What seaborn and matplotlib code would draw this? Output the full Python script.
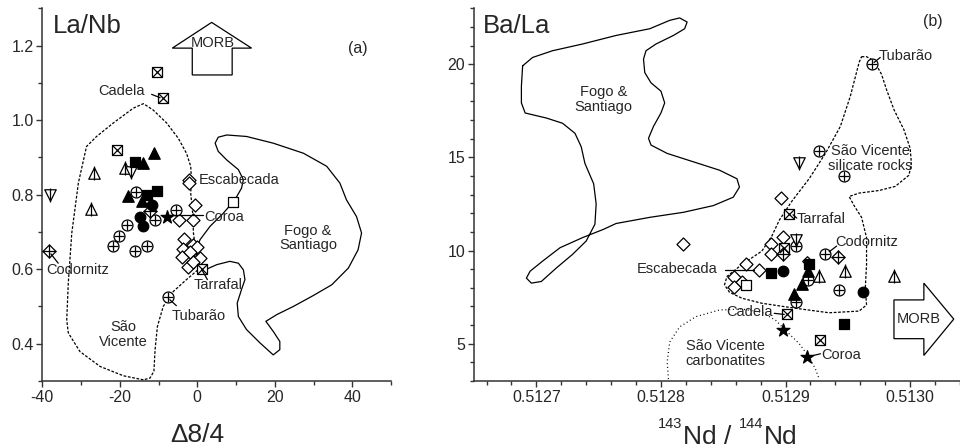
import numpy as np
import pandas as pd
import matplotlib
matplotlib.use("Agg")
import matplotlib.pyplot as plt
import seaborn as sns
from matplotlib.ticker import MultipleLocator, FormatStrFormatter
from matplotlib.patches import Polygon

sns.set_style("ticks")
plt.rcParams["font.family"] = ["Liberation Sans", "DejaVu Sans"]
plt.rcParams["mathtext.default"] = "regular"
plt.rcParams["axes.unicode_minus"] = False

# ---------------- Panel (a): La/Nb vs Delta8/4 ----------------
a_cplus_x = [-15.8, -10.9, -5.5, -18.2, -20.1, -21.8, -16.1, -13.1, -7.5]
a_cplus_y = [0.808, 0.733, 0.759, 0.719, 0.690, 0.661, 0.650, 0.661, 0.524]
a_dplus_x = [-12.2, -38.2]
a_dplus_y = [0.755, 0.650]
a_sqx_x = [-10.3, -8.8, -20.6, 1.1]
a_sqx_y = [1.130, 1.059, 0.920, 0.600]
a_sqo_x = [9.3]
a_sqo_y = [0.781]
a_tri_x = [-11.2, -13.9, -17.8, -14.4]
a_tri_y = [0.911, 0.884, 0.795, 0.782]
a_sqf_x = [-16.1, -10.3, -13.1]
a_sqf_y = [0.888, 0.811, 0.800]
a_cir_x = [-11.8, -14.8, -13.9]
a_cir_y = [0.773, 0.741, 0.716]
a_trio_x = [-26.6, -27.5, -18.7]
a_trio_y = [0.858, 0.761, 0.871]
a_tdn_x = [-38.0, -17.0]
a_tdn_y = [0.800, 0.862]
a_star_x = [-7.7]
a_star_y = [0.740]
a_dia_x = [-2.1, -2.1, -0.5, -1.2, -4.7, -3.5, -3.7, -1.0, -0.2, -3.9, -1.8, 0.8, -2.4, -1.0]
a_dia_y = [0.840, 0.830, 0.771, 0.731, 0.733, 0.680, 0.655, 0.665, 0.660, 0.632, 0.645, 0.630, 0.607, 0.620]

a_sv_x = [-13.9, -19.1, -25.1, -30.3, -33.3, -33.7, -33.3, -32.4, -30.7, -28.6, -26.0, -21.7,
          -16.5, -13.9, -11.4, -7.9, -4.9, -2.8, -1.7, -1.5, -1.7, -1.2, -1.0, -0.3, 0.7,
          -2.8, -6.2, -8.8, -10.3, -10.9, -11.2, -12.2, -13.9]
a_sv_y = [0.303, 0.314, 0.339, 0.379, 0.429, 0.464, 0.563, 0.697, 0.831, 0.929, 0.956, 0.992,
          1.032, 1.044, 1.027, 0.992, 0.951, 0.911, 0.876, 0.840, 0.804, 0.750, 0.697, 0.643, 0.603,
          0.572, 0.540, 0.500, 0.446, 0.384, 0.326, 0.308, 0.303]
a_fs_x = [1.1, -1.0, 0.7, 3.3, 6.7, 9.7, 11.4, 11.9, 10.6, 7.6, 5.4, 4.6, 5.4, 7.6, 12.7, 19.6,
          27.4, 33.4, 36.8, 38.5, 41.1, 42.4, 41.5, 39.0, 34.7, 29.9, 24.8, 20.5, 17.7, 19.6,
          21.3, 21.3, 19.6, 16.2, 12.7, 10.6, 10.3, 11.4, 12.3, 11.9, 10.6, 8.4, 5.0, 2.0, 1.1]
a_fs_y = [0.597, 0.625, 0.679, 0.715, 0.750, 0.786, 0.817, 0.840, 0.867, 0.893, 0.916, 0.938,
          0.954, 0.960, 0.956, 0.938, 0.911, 0.876, 0.831, 0.786, 0.741, 0.697, 0.652, 0.603,
          0.558, 0.529, 0.500, 0.478, 0.460, 0.433, 0.406, 0.384, 0.370, 0.402, 0.438, 0.473,
          0.509, 0.545, 0.572, 0.598, 0.616, 0.621, 0.612, 0.598, 0.597]

# ---------------- Panel (b): Ba/La vs 143Nd/144Nd ----------------
b_cplus_x = [0.512969, 0.512927, 0.512947, 0.512908, 0.512932, 0.512918, 0.512943, 0.512908]
b_cplus_y = [20.0, 15.36, 14.0, 10.24, 9.82, 8.43, 7.89, 7.22]
b_dplus_x = [0.512898, 0.512942]
b_dplus_y = [9.79, 9.64]
b_tdn_x = [0.512911, 0.512908]
b_tdn_y = [14.67, 10.55]
b_dia_x = [0.512896, 0.512818, 0.512898, 0.512888, 0.512888, 0.512868, 0.512879, 0.512859,
           0.512865, 0.512859]
b_dia_y = [12.81, 10.33, 10.73, 10.33, 9.79, 9.30, 8.98, 8.56, 8.31, 8.02]
b_sdia_x = [0.512917]
b_sdia_y = [9.43]
b_sqx_x = [0.512903, 0.512899, 0.512901, 0.512928]
b_sqx_y = [11.96, 10.15, 6.57, 5.18]
b_sqo_x = [0.512868]
b_sqo_y = [8.16]
b_sqf_x = [0.512888, 0.512919, 0.512947]
b_sqf_y = [8.79, 9.25, 6.08]
b_cir_x = [0.512898, 0.512962]
b_cir_y = [8.92, 7.76]
b_tri_x = [0.512918, 0.512913, 0.512907]
b_tri_y = [8.92, 8.20, 7.66]
b_trio_x = [0.512927, 0.512948, 0.512987]
b_trio_y = [8.61, 8.92, 8.61]
b_star_x = [0.512898, 0.512917]
b_star_y = [5.72, 4.28]

b_fs_x = [0.512689, 0.512697, 0.512713, 0.512737, 0.512764, 0.512791, 0.512807, 0.512815,
          0.512821, 0.512819, 0.512810, 0.512796, 0.512788, 0.512786, 0.512787, 0.512792,
          0.512800, 0.512803, 0.512800, 0.512794, 0.512790, 0.512792, 0.512805, 0.512826,
          0.512847, 0.512861, 0.512863, 0.512858, 0.512842, 0.512818, 0.512791, 0.512764,
          0.512754, 0.512737, 0.512719, 0.512705, 0.512695, 0.512692, 0.512696, 0.512704,
          0.512716, 0.512729, 0.512740, 0.512747, 0.512748, 0.512746, 0.512739, 0.512736,
          0.512731, 0.512721, 0.512708, 0.512691, 0.512688, 0.512688, 0.512689]
b_fs_y = [19.91, 20.36, 20.72, 21.08, 21.54, 21.90, 22.35, 22.48, 22.26, 21.90, 21.54, 21.08,
          20.72, 20.27, 19.55, 19.00, 18.55, 17.92, 17.38, 16.66, 16.02, 15.66, 15.21, 14.76,
          14.31, 13.85, 13.40, 12.86, 12.41, 12.05, 11.78, 11.45, 11.14, 10.69, 10.15, 9.43,
          8.89, 8.52, 8.25, 8.34, 9.06, 9.79, 10.51, 11.41, 12.50, 13.58, 14.67, 15.57, 16.29,
          16.83, 17.11, 17.38, 17.92, 18.82, 19.91]
b_sv_x = [0.512961, 0.512965, 0.512971, 0.512977, 0.512981, 0.512987, 0.512995, 0.513000,
          0.513001, 0.512999, 0.512988, 0.512975, 0.512959, 0.512951, 0.512955, 0.512961,
          0.512965, 0.512965, 0.512964, 0.512965, 0.512959, 0.512935, 0.512908, 0.512881,
          0.512865, 0.512855, 0.512851, 0.512853, 0.512865, 0.512881, 0.512889, 0.512895,
          0.512905, 0.512919, 0.512932, 0.512944, 0.512952, 0.512959, 0.512961]
b_sv_y = [20.40, 20.40, 20.18, 19.46, 18.64, 17.56, 16.48, 15.48, 14.67, 14.04, 13.44, 13.22,
          13.08, 12.90, 12.41, 11.78, 10.69, 9.25, 7.98, 7.08, 6.75, 6.66, 6.90, 7.17, 7.44,
          7.76, 8.16, 8.61, 9.25, 9.97, 10.78, 11.63, 12.64, 13.86, 15.21, 16.66, 18.28, 20.09,
          20.40]
b_carb_x = [0.512806, 0.512805, 0.512807, 0.512815, 0.512828, 0.512847, 0.512865, 0.512881,
            0.512892, 0.512900, 0.512911, 0.512919, 0.512924, 0.512927]
b_carb_y = [3.10, 4.01, 5.09, 5.90, 6.45, 6.81, 6.86, 6.68, 6.26, 5.72, 5.00, 4.28, 3.64, 3.10]

# ---------------- drawing helpers ----------------
LW = 0.9


def pts(ax, x, y, marker, s, face="white", z=3):
    df = pd.DataFrame({"x": x, "y": y})
    sns.scatterplot(data=df, x="x", y="y", marker=marker, s=s, facecolor=face,
                    edgecolor="black", linewidth=LW, ax=ax, zorder=z, legend=False)


def over(ax, x, y, marker, s, z=4):
    df = pd.DataFrame({"x": x, "y": y})
    sns.scatterplot(data=df, x="x", y="y", marker=marker, s=s, color="black",
                    linewidth=LW, ax=ax, zorder=z, legend=False)


def draw_kind(ax, x, y, kind):
    if kind == "cplus":
        pts(ax, x, y, "o", 62); over(ax, x, y, "+", 62)
    elif kind == "dplus":
        pts(ax, x, y, "D", 44); over(ax, x, y, "+", 88)
    elif kind == "sqx":
        pts(ax, x, y, "s", 44); over(ax, x, y, "x", 44)
    elif kind == "sqo":
        pts(ax, x, y, "s", 54)
    elif kind == "tri":
        pts(ax, x, y, "^", 68, face="black")
    elif kind == "sqf":
        pts(ax, x, y, "s", 54, face="black")
    elif kind == "cir":
        pts(ax, x, y, "o", 58, face="black")
    elif kind == "trio":
        pts(ax, x, y, "^", 68); over(ax, x, y, "|", 90)
    elif kind == "tdn":
        pts(ax, x, y, "v", 68); over(ax, x, y, "|", 90)
    elif kind == "star":
        pts(ax, x, y, "*", 95, face="black")
    elif kind == "dia":
        pts(ax, x, y, "D", 44)
    elif kind == "sdia":
        pts(ax, x, y, "D", 24)


def outline(ax, x, y, ls):
    sns.lineplot(x=x, y=y, sort=False, estimator=None, color="black", lw=LW,
                 linestyle=ls, ax=ax, zorder=2, legend=False)


def leader(ax, x0, y0, x1, y1):
    ax.plot([x0, x1], [y0, y1], color="black", lw=LW, zorder=5)


fig = plt.figure(figsize=(9.6, 4.48), dpi=100)
ax1 = fig.add_axes([0.0441, 0.1496, 0.3632, 0.832])
ax2 = fig.add_axes([0.4938, 0.1496, 0.5062, 0.832])

TXT = 10.5

# ---- panel a ----
outline(ax1, a_sv_x, a_sv_y, (0, (2.2, 1.3)))
outline(ax1, a_fs_x, a_fs_y, "-")
for x, y, k in [(a_dia_x, a_dia_y, "dia"), (a_sqx_x, a_sqx_y, "sqx"), (a_sqo_x, a_sqo_y, "sqo"),
                (a_cplus_x, a_cplus_y, "cplus"), (a_dplus_x, a_dplus_y, "dplus"),
                (a_trio_x, a_trio_y, "trio"), (a_tdn_x, a_tdn_y, "tdn"),
                (a_tri_x, a_tri_y, "tri"), (a_sqf_x, a_sqf_y, "sqf"),
                (a_cir_x, a_cir_y, "cir"), (a_star_x, a_star_y, "star")]:
    draw_kind(ax1, x, y, k)

arrow_a = [(-1.3, 1.121), (9.0, 1.121), (9.0, 1.193), (14.0, 1.193), (3.7, 1.262),
           (-6.45, 1.193), (-1.3, 1.193)]
ax1.add_patch(Polygon(arrow_a, closed=True, facecolor="white", edgecolor="black", lw=LW, zorder=3))
ax1.text(4.1, 1.207, "MORB", fontsize=TXT, ha="center", va="center", zorder=4)

ax1.text(-19.5, 1.079, "Cadela", fontsize=TXT, ha="center", va="center")
leader(ax1, -11.8, 1.069, -9.6, 1.060)
ax1.text(0.3, 0.838, "Escabecada", fontsize=TXT, ha="left", va="center")
ax1.text(1.7, 0.741, "Coroa", fontsize=TXT, ha="left", va="center")
leader(ax1, -7.5, 0.744, 1.6, 0.744)
ax1.text(28.6, 0.683, "Fogo &\nSantiago", fontsize=TXT, ha="center", va="center",
         linespacing=1.05)
ax1.text(5.4, 0.558, "Tarrafal", fontsize=TXT, ha="center", va="center")
leader(ax1, 1.1, 0.600, 2.6, 0.572)
ax1.text(0.3, 0.473, "Tubarão", fontsize=TXT, ha="center", va="center")
leader(ax1, -7.1, 0.518, -5.4, 0.502)
ax1.text(-19.1, 0.424, "São\nVicente", fontsize=TXT, ha="center", va="center",
         linespacing=1.05)
ax1.text(-31.0, 0.598, "Codornitz", fontsize=TXT, ha="center", va="center")
leader(ax1, -37.8, 0.641, -35.9, 0.616)

ax1.text(0.031, 0.985, "La/Nb", transform=ax1.transAxes, fontsize=18.5, ha="left", va="top")
ax1.text(0.904, 0.891, "(a)", transform=ax1.transAxes, fontsize=11.5, ha="center", va="center")
ax1.set_xlabel("")
ax1.set_ylabel("")
ax1.set_xlim(-40, 50)
ax1.set_ylim(0.3, 1.3)
ax1.xaxis.set_major_locator(MultipleLocator(20))
ax1.xaxis.set_minor_locator(MultipleLocator(10))
ax1.yaxis.set_major_locator(MultipleLocator(0.2))
ax1.yaxis.set_minor_locator(MultipleLocator(0.1))
ax1.yaxis.set_major_formatter(FormatStrFormatter("%.1f"))

# ---- panel b ----
outline(ax2, b_fs_x, b_fs_y, "-")
outline(ax2, b_sv_x, b_sv_y, (0, (2.2, 1.3)))
outline(ax2, b_carb_x, b_carb_y, (0, (0.8, 2.2)))
for x, y, k in [(b_dia_x, b_dia_y, "dia"), (b_sdia_x, b_sdia_y, "sdia"), (b_sqx_x, b_sqx_y, "sqx"),
                (b_sqo_x, b_sqo_y, "sqo"), (b_cplus_x, b_cplus_y, "cplus"),
                (b_dplus_x, b_dplus_y, "dplus"), (b_trio_x, b_trio_y, "trio"),
                (b_tdn_x, b_tdn_y, "tdn"), (b_tri_x, b_tri_y, "tri"), (b_sqf_x, b_sqf_y, "sqf"),
                (b_cir_x, b_cir_y, "cir"), (b_star_x, b_star_y, "star")]:
    draw_kind(ax2, x, y, k)

arrow_b = [(0.512987, 5.27), (0.513011, 5.27), (0.513011, 4.37), (0.513035, 6.32),
           (0.513011, 8.25), (0.513011, 7.35), (0.512987, 7.35)]
ax2.add_patch(Polygon(arrow_b, closed=True, facecolor="white", edgecolor="black", lw=LW, zorder=3))
ax2.text(0.513007, 6.32, "MORB", fontsize=TXT, ha="center", va="center", zorder=4)

ax2.text(0.512754, 18.1, "Fogo &\nSantiago", fontsize=TXT, ha="center", va="center",
         linespacing=1.05)
ax2.text(0.512975, 20.45, "Tubarão", fontsize=TXT, ha="left", va="center")
leader(ax2, 0.512971, 20.09, 0.512976, 20.36)
ax2.text(0.512968, 14.94, "São Vicente\nsilicate rocks", fontsize=TXT, ha="center",
         va="center", linespacing=1.05)
ax2.text(0.512909, 11.69, "Tarrafal", fontsize=TXT, ha="left", va="center")
leader(ax2, 0.512906, 11.92, 0.512909, 11.74)
ax2.text(0.512940, 10.45, "Codornitz", fontsize=TXT, ha="left", va="center")
leader(ax2, 0.512935, 9.93, 0.512941, 10.24)
ax2.text(0.512813, 9.03, "Escabecada", fontsize=TXT, ha="center", va="center")
leader(ax2, 0.512851, 8.98, 0.512875, 8.98)
ax2.text(0.512890, 6.68, "Cadela", fontsize=TXT, ha="right", va="center")
leader(ax2, 0.512891, 6.63, 0.512899, 6.57)
ax2.text(0.512929, 4.42, "Coroa", fontsize=TXT, ha="left", va="center")
leader(ax2, 0.512920, 4.33, 0.512928, 4.46)
ax2.text(0.512852, 4.46, "São Vicente\ncarbonatites", fontsize=TXT, ha="center",
         va="center", linespacing=1.05)

ax2.text(0.0185, 0.985, "Ba/La", transform=ax2.transAxes, fontsize=18.5, ha="left", va="top")
ax2.text(0.944, 0.964, "(b)", transform=ax2.transAxes, fontsize=11.5, ha="center", va="center")
ax2.set_xlabel("")
ax2.set_ylabel("")
ax2.set_xlim(0.51265, 0.51304)
ax2.set_ylim(3, 23)
ax2.xaxis.set_major_locator(MultipleLocator(0.0001))
ax2.xaxis.set_minor_locator(MultipleLocator(0.00002))
ax2.xaxis.set_major_formatter(FormatStrFormatter("%.4f"))
ax2.yaxis.set_major_locator(MultipleLocator(5))
ax2.yaxis.set_minor_locator(MultipleLocator(1))

# axis titles (placed as figure text to match the reference layout)
BIG = 19
SUP = 10.5
fig.text(170 / 960, 6 / 448, "Δ8/4", fontsize=BIG, ha="left", va="baseline")
fig.text(658 / 960, 20 / 448, "143", fontsize=SUP, ha="left", va="baseline")
fig.text(683 / 960, 4 / 448, "Nd /", fontsize=BIG, ha="left", va="baseline")
fig.text(739 / 960, 20 / 448, "144", fontsize=SUP, ha="left", va="baseline")
fig.text(764 / 960, 4 / 448, "Nd", fontsize=BIG, ha="left", va="baseline")

for ax in (ax1, ax2):
    sns.despine(ax=ax)
    for sp in ("left", "bottom"):
        ax.spines[sp].set_color("#333333")
        ax.spines[sp].set_linewidth(1.1)
    ax.tick_params(which="major", length=4.3, width=1.0, color="#333333", labelsize=11.5, pad=2)
    ax.tick_params(which="minor", length=2.6, width=1.0, color="#333333")
    ax.set_facecolor("white")

fig.savefig("out.png", dpi=100, facecolor="white")
